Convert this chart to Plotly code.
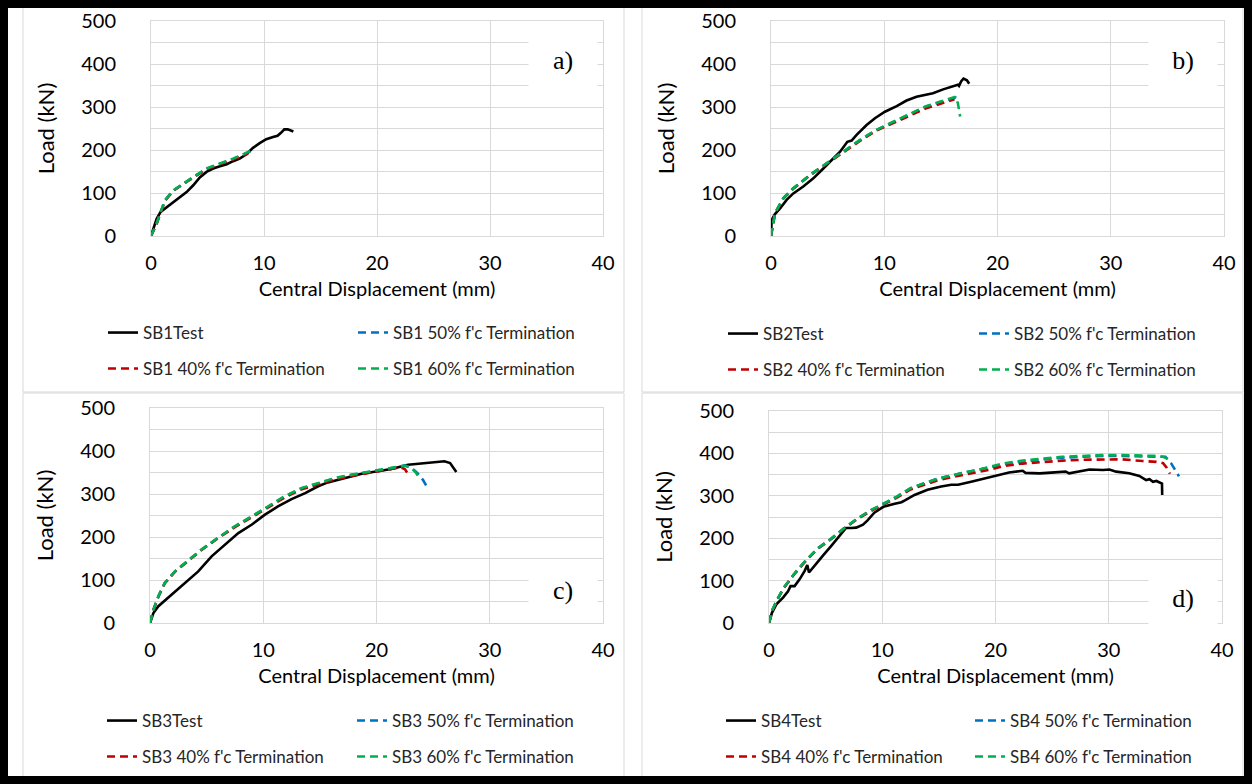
import plotly.graph_objects as go

PAGE_W, PAGE_H = 1252, 784
MARGIN = 8          # default page body margin
W, H = PAGE_W - 2 * MARGIN, PAGE_H - 2 * MARGIN

# ---------------- data (Central displacement mm, Load kN) ----------------
sb1_test_x = [0, 0.26, 0.5, 0.85, 1.38, 1.97, 2.56, 3.15, 3.74, 4.32, 4.91, 5.5, 6.1, 6.7, 7.26, 7.85, 8.44, 9.03, 9.62, 10.2, 10.8, 11.2, 11.5, 11.8, 12.1, 12.6]
sb1_test_y = [0, 21, 40, 56, 67, 79, 91, 102, 118, 136, 149, 157, 162, 167, 174, 180, 190, 205, 216, 225, 230, 233, 240, 248, 248, 243]
sb1_50_x = [0, 0.5, 0.8, 1.24, 1.97, 2.85, 3.74, 4.91, 6.1, 7.26, 8.15, 8.8]
sb1_50_y = [0, 29, 52, 83, 106, 122, 137, 156, 167, 179, 189, 197]
sb1_40_x = [0, 0.5, 0.8, 1.24, 1.97, 2.85, 3.74, 4.91, 6.1, 7.26, 8.15, 8.6]
sb1_40_y = [0, 28, 51, 82, 105, 121, 136, 155, 166, 178, 187, 192]
sb1_60_x = [0, 0.5, 0.8, 1.24, 1.97, 2.85, 3.74, 4.91, 6.1, 7.26, 8.15, 9.0]
sb1_60_y = [0, 29, 52, 83, 106, 122, 137, 157, 168, 180, 190, 201]

sb2_test_x = [0, 0.06, 0.35, 0.8, 1.38, 1.97, 2.85, 3.74, 4.62, 5.35, 6.1, 6.74, 7.12, 7.56, 8.44, 9.18, 10.06, 11.1, 11.97, 12.85, 13.7, 14.3, 15.2, 16.4, 16.5, 16.6, 16.8, 17.0, 17.3, 17.5]
sb2_test_y = [0, 37, 51, 64, 84, 99, 115, 134, 157, 177, 196, 219, 222, 235, 258, 274, 289, 302, 315, 324, 329, 332, 341, 351, 352, 349, 360, 366, 362, 354]
sb2_50_x = [0, 0.35, 1.09, 1.97, 3.44, 4.9, 6.4, 7.85, 9.3, 10.8, 12.3, 13.7, 14.9, 15.9, 16.3, 16.5]
sb2_50_y = [0, 53, 88, 111, 142, 169, 196, 223, 246, 265, 284, 301, 311, 319, 322, 312]
sb2_40_x = [0, 0.35, 1.09, 1.97, 3.44, 4.9, 6.4, 7.85, 9.3, 10.8, 12.3, 13.7, 14.9, 15.9, 16.2]
sb2_40_y = [0, 52, 87, 110, 141, 168, 195, 221, 245, 263, 281, 297, 307, 315, 318]
sb2_60_x = [0, 0.35, 1.09, 1.97, 3.44, 4.9, 6.4, 7.85, 9.3, 10.8, 12.3, 13.7, 14.9, 15.9, 16.3, 16.5, 16.7]
sb2_60_y = [0, 53, 88, 111, 142, 169, 196, 223, 247, 266, 285, 302, 312, 320, 324, 309, 278]

sb3_test_x = [0, 0.3, 0.74, 1.9, 3.1, 4.26, 5.44, 6.6, 7.8, 9.0, 10.15, 11.3, 12.5, 13.7, 14.85, 15.7, 17.2, 18.7, 20.1, 21.3, 22.8, 24.6, 26.0, 26.5, 26.9, 27.05]
sb3_test_y = [0, 23, 39, 66, 93, 120, 155, 182, 209, 229, 252, 271, 288, 302, 318, 327, 337, 347, 353, 358, 368, 372, 376, 372, 357, 351]
sb3_50_x = [0, 0.3, 0.74, 1.3, 2.2, 3.4, 4.56, 6.0, 7.5, 9.0, 10.4, 11.9, 13.4, 14.85, 16.3, 17.8, 19.6, 21.3, 22.5, 23.1, 23.6, 24.1, 24.6]
sb3_50_y = [0, 31, 62, 93, 120, 147, 171, 198, 225, 248, 271, 294, 313, 325, 336, 344, 352, 359, 366, 361, 349, 333, 310]
sb3_40_x = [0, 0.3, 0.74, 1.3, 2.2, 3.4, 4.56, 6.0, 7.5, 9.0, 10.4, 11.9, 13.4, 14.85, 16.3, 17.8, 19.6, 21.3, 22.1, 22.5, 22.7]
sb3_40_y = [0, 30, 61, 92, 119, 146, 170, 197, 223, 246, 269, 292, 311, 323, 334, 342, 350, 357, 362, 358, 350]
sb3_60_x = [0, 0.3, 0.74, 1.3, 2.2, 3.4, 4.56, 6.0, 7.5, 9.0, 10.4, 11.9, 13.4, 14.85, 16.3, 17.8, 19.6, 21.3, 22.5, 23.1, 23.5, 23.7]
sb3_60_y = [0, 31, 62, 93, 120, 147, 171, 198, 225, 248, 271, 295, 314, 326, 337, 345, 353, 360, 366, 360, 349, 340]

sb4_test_x = [0, 0.26, 0.65, 1.24, 1.68, 1.9, 2.26, 2.7, 3.15, 3.38, 3.53, 4.0, 4.76, 5.5, 6.2, 6.8, 7.26, 7.7, 8.3, 8.7, 9.3, 10.1, 11.1, 11.7, 12.0, 12.85, 14.0, 15.2, 16.1, 16.7, 17.85, 19.0, 20.2, 21.2, 22.4, 22.65, 23.9, 25.35, 26.2, 26.5, 27.4, 28.3, 29.5, 30.06, 30.65, 31.8, 32.7, 33.1, 33.3, 33.6, 33.9, 34.2, 34.5, 34.7, 34.72]
sb4_test_y = [0, 24, 44, 60, 75, 87, 87, 103, 123, 137, 119, 135, 159, 182, 206, 224, 224, 225, 232, 242, 260, 274, 281, 285, 289, 302, 314, 322, 326, 326, 333, 341, 349, 355, 359, 354, 353, 356, 357, 353, 358, 362, 361, 362, 357, 353, 347, 339, 337, 339, 333, 335, 331, 329, 302]
sb4_50_x = [0, 0.3, 0.74, 1.3, 2.2, 3.1, 4.26, 5.44, 6.6, 7.8, 9.0, 10.1, 11.3, 12.5, 13.7, 14.85, 16.0, 17.2, 18.4, 19.6, 20.65, 22.4, 24.2, 25.9, 27.7, 29.5, 31.2, 33.0, 34.2, 35.0, 35.5, 35.9, 36.2]
sb4_50_y = [0, 31, 56, 83, 115, 143, 175, 198, 223, 246, 266, 281, 298, 318, 329, 340, 347, 355, 361, 368, 374, 381, 386, 390, 392, 394, 394, 393, 393, 392, 377, 358, 346]
sb4_40_x = [0, 0.3, 0.74, 1.3, 2.2, 3.1, 4.26, 5.44, 6.6, 7.8, 9.0, 10.1, 11.3, 12.5, 13.7, 14.85, 16.0, 17.2, 18.4, 19.6, 20.65, 22.4, 24.2, 25.9, 27.7, 29.5, 31.2, 33.0, 34.2, 34.8, 35.1, 35.4]
sb4_40_y = [0, 30, 55, 82, 114, 142, 174, 197, 222, 245, 264, 279, 296, 315, 326, 336, 343, 350, 356, 362, 370, 376, 380, 383, 385, 386, 386, 382, 380, 377, 367, 352]
sb4_60_x = [0, 0.3, 0.74, 1.3, 2.2, 3.1, 4.26, 5.44, 6.6, 7.8, 9.0, 10.1, 11.3, 12.5, 13.7, 14.85, 16.0, 17.2, 18.4, 19.6, 20.65, 22.4, 24.2, 25.9, 27.7, 29.5, 31.2, 33.0, 34.2, 34.8, 35.3]
sb4_60_y = [0, 31, 56, 83, 115, 143, 175, 198, 223, 246, 266, 281, 298, 318, 329, 340, 347, 355, 361, 369, 376, 383, 388, 392, 394, 396, 396, 395, 394, 392, 386]

x_ticks = [0, 10, 20, 30, 40]
y_ticks = [0, 100, 200, 300, 400, 500]
panel_labels = ["a)", "b)", "c)", "d)"]
specimens = ["SB1", "SB2", "SB3", "SB4"]

series = [
    (sb1_test_x, sb1_test_y, sb1_50_x, sb1_50_y, sb1_40_x, sb1_40_y, sb1_60_x, sb1_60_y),
    (sb2_test_x, sb2_test_y, sb2_50_x, sb2_50_y, sb2_40_x, sb2_40_y, sb2_60_x, sb2_60_y),
    (sb3_test_x, sb3_test_y, sb3_50_x, sb3_50_y, sb3_40_x, sb3_40_y, sb3_60_x, sb3_60_y),
    (sb4_test_x, sb4_test_y, sb4_50_x, sb4_50_y, sb4_40_x, sb4_40_y, sb4_60_x, sb4_60_y),
]

# ---------------- layout geometry (page pixels) ----------------
FONT = "Lato"
GRID = "#d9d9d9"
def fx(p): return (p - MARGIN) / W
def fy(p): return 1 - (p - MARGIN) / H

plot_px = [(151, 603, 21, 236), (771, 1224, 21, 236), (150, 603, 408, 623), (769, 1222, 411, 623)]
panel_px = [(23, 624, 5, 392), (642, 1243, 5, 392), (23, 624, 393, 779), (642, 1243, 393, 779)]
letter_px = [(563, 60), (1183, 60), (563, 590), (1183, 598)]
legend_rows = [(333, 369), (334, 370), (721, 757), (721, 757)]
legend_cols = [(145, 395), (765, 1016), (144, 394), (763, 1012)]

colors = ["#000000", "#0070C0", "#C00000", "#00B050"]
names = ["{}Test", "{} 50% f'c Termination", "{} 40% f'c Termination", "{} 60% f'c Termination"]

fig = go.Figure()
layout = dict(
    width=W, height=H, margin=dict(l=0, r=0, t=0, b=0, autoexpand=False),
    paper_bgcolor="white", plot_bgcolor="white",
    font=dict(family=FONT, color="#000000"),
    showlegend=True,
)
annotations = []
shapes = []
leg_idx = 0
for i in range(4):
    ax = "" if i == 0 else str(i + 1)
    x0, x1, yt, yb = plot_px[i]
    layout["xaxis" + ax] = dict(
        domain=[fx(x0), fx(x1)], range=[0, 40], tickvals=x_ticks, anchor="y" + ax,
        showgrid=True, gridcolor=GRID, gridwidth=1, zeroline=False,
        showline=True, mirror=True, linecolor=GRID, linewidth=1,
        ticks="", ticklabelstandoff=9,
        tickfont=dict(family=FONT, size=20, color="#000000"),
        title=dict(text="Central Displacement (mm)", font=dict(family=FONT, size=20, color="#000000"), standoff=8),
        fixedrange=True,
    )
    layout["yaxis" + ax] = dict(
        domain=[fy(yb), fy(yt)], range=[0, 500], tickvals=y_ticks, anchor="x" + ax,
        showgrid=True, gridcolor=GRID, gridwidth=1, zeroline=False,
        minor=dict(dtick=50, tick0=0, showgrid=True, gridcolor=GRID, gridwidth=1),
        showline=True, mirror=True, linecolor=GRID, linewidth=1,
        ticks="", ticklabelstandoff=30,
        tickfont=dict(family=FONT, size=20, color="#000000"),
        title=dict(text="Load (kN)", font=dict(family=FONT, size=22, color="#000000"), standoff=20),
        fixedrange=True,
    )
    s = series[i]
    pos = [(0, 0), (0, 1), (1, 0), (1, 1)]  # (row, col) of each legend entry
    for k in range(4):
        leg_idx += 1
        lname = "legend" if leg_idx == 1 else "legend%d" % leg_idx
        r, c = pos[k]
        fig.add_trace(go.Scatter(
            x=s[2 * k], y=s[2 * k + 1], mode="lines",
            name=names[k].format(specimens[i]),
            line=dict(color=colors[k], width=2.6,
                      dash="solid" if k == 0 else "8px,5px"),
            xaxis="x" + ax, yaxis="y" + ax, legend=lname, hoverinfo="skip",
        ))
        layout[lname] = dict(
            x=fx(legend_cols[i][c] - 42), y=fy(legend_rows[i][r]),
            xanchor="left", yanchor="middle", orientation="h",
            bgcolor="rgba(0,0,0,0)", borderwidth=0,
            font=dict(family=FONT, size=17, color="#262626"),
            itemwidth=30,
        )
    lx, ly = letter_px[i]
    annotations.append(dict(
        x=fx(lx), y=fy(ly), xref="paper", yref="paper", text=panel_labels[i], showarrow=False,
        font=dict(family="Liberation Serif", size=26, color="#000000"),
        bgcolor="white", width=66, height=54, xanchor="center", yanchor="middle",
    ))
    px0, px1, py0, py1 = panel_px[i]
    shapes.append(dict(type="rect", xref="paper", yref="paper",
                       x0=fx(px0), x1=fx(px1), y0=fy(py1), y1=fy(py0),
                       line=dict(color=GRID, width=1), layer="below"))

layout["annotations"] = annotations
layout["shapes"] = shapes
fig.update_layout(**layout)

fig.write_html("out.html", config={"displayModeBar": False},
               post_script="document.body.style.background='black';")
